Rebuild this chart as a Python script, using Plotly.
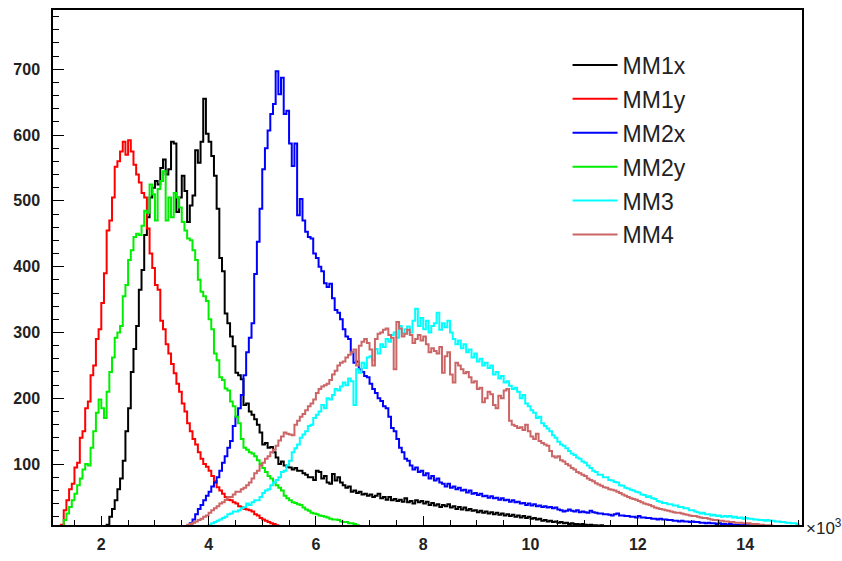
import numpy as np
import plotly.graph_objects as go

# Bin width of every histogram, in units of 10^3
BIN_WIDTH = 0.05

# Counts per bin; each series lists its bins from its first filled bin edge
mm1x_start = 2.10
mm1x = [8, 20, 32, 45, 62, 78, 105, 150, 185, 240,
        275, 310, 365, 395, 448, 475, 505, 520, 530, 525,
        550, 563, 540, 548, 590, 587, 483, 505, 538, 515,
        468, 493, 508, 577, 558, 590, 655, 602, 590, 568,
        538, 488, 413, 393, 329, 314, 294, 279, 239, 235,
        229, 190, 192, 180, 175, 168, 160, 148, 130, 132,
        125, 126, 118, 110, 100, 104, 98, 96, 95, 92,
        94, 90, 90, 86, 84, 80, 80, 76, 90, 88,
        78, 82, 72, 70, 85, 75, 80, 72, 68, 64,
        66, 58, 60, 56, 58, 54, 55, 52, 54, 50,
        52, 55, 48, 50, 46, 50, 45, 47, 44, 46,
        43, 48, 42, 44, 40, 45, 42, 44, 40, 43,
        38, 41, 37, 39, 35, 38, 36, 39, 34, 36,
        32, 35, 31, 34, 30, 32, 29, 30, 27, 29,
        26, 28, 25, 27, 24, 26, 23, 25, 22, 24,
        21, 23, 20, 22, 19, 21, 18, 20, 17, 18,
        16, 17, 14, 15, 13, 14, 12, 13, 11, 12,
        10, 11, 9, 10, 9, 9, 8, 9, 8, 7,
        8, 7, 7, 6, 7, 6, 6, 5, 6, 5,
        5, 4, 5, 4, 4, 4, 3, 4, 3, 3,
        3, 2, 3, 2, 2, 2, 2, 1, 2, 1]

mm1y_start = 1.25
mm1y = [8, 30, 45, 62, 70, 95, 102, 140, 150, 185,
        195, 235, 250, 290, 305, 345, 390, 455, 470, 505,
        552, 560, 575, 590, 570, 592, 575, 555, 540, 528,
        512, 505, 458, 420, 398, 372, 365, 318, 305, 282,
        268, 252, 238, 222, 210, 192, 180, 162, 150, 138,
        130, 118, 108, 100, 96, 90, 82, 74, 65, 60,
        55, 50, 46, 45, 42, 40, 36, 35, 32, 31,
        30, 28, 24, 22, 18, 16, 14, 12, 10, 9,
        7, 6, 6, 5, 4, 5, 3, 4, 3, 4,
        2, 3, 2, 3, 2, 2, 1, 2, 1, 1]

mm2x_start = 3.60
mm2x = [5, 10, 16, 24, 32, 38, 45, 52, 58, 66,
        72, 80, 90, 102, 112, 125, 135, 158, 172, 185,
        205, 235, 270, 292, 314, 389, 438, 488, 548, 580,
        607, 632, 647, 697, 662, 687, 632, 637, 587, 553,
        587, 478, 503, 470, 453, 445, 443, 420, 413, 400,
        393, 375, 369, 374, 352, 334, 330, 320, 305, 294,
        290, 270, 254, 256, 244, 240, 234, 232, 222, 214,
        208, 200, 196, 188, 185, 172, 155, 150, 138, 125,
        118, 108, 105, 98, 92, 95, 88, 90, 83, 86,
        78, 82, 75, 78, 72, 70, 66, 70, 64, 66,
        62, 64, 60, 61, 57, 60, 55, 56, 53, 55,
        51, 52, 49, 51, 48, 49, 46, 48, 45, 46,
        43, 45, 42, 43, 40, 41, 38, 40, 37, 39,
        36, 37, 35, 36, 34, 35, 33, 34, 31, 30,
        28, 29, 31, 29, 28, 30, 27, 28, 27, 26,
        29, 27, 26, 25, 25, 24, 24, 23, 22, 24,
        25, 22, 22, 21, 21, 20, 20, 19, 21, 19,
        19, 18, 18, 17, 17, 16, 17, 16, 16, 15,
        15, 14, 14, 13, 14, 13, 13, 12, 13, 12,
        12, 11, 11, 10, 11, 10, 10, 9, 10, 9,
        9, 8, 9, 8, 8, 8, 7, 8, 7, 7,
        7, 6, 7, 6, 6, 6, 5, 6, 5, 5,
        5, 5, 4, 5, 4, 4, 4, 4]

mm2y_start = 1.25
mm2y = [5, 15, 25, 35, 45, 55, 68, 78, 92, 100,
        98, 125, 150, 178, 198, 185, 170, 210, 240, 262,
        292, 300, 310, 355, 372, 410, 425, 445, 450, 448,
        462, 485, 482, 525, 510, 470, 518, 530, 545, 470,
        505, 475, 512, 505, 490, 468, 455, 443, 440, 425,
        410, 380, 362, 355, 348, 320, 305, 268, 258, 232,
        228, 215, 212, 195, 188, 172, 162, 138, 125, 122,
        118, 116, 112, 106, 100, 94, 88, 82, 78, 72,
        68, 64, 60, 52, 48, 45, 42, 41, 39, 38,
        34, 31, 29, 26, 25, 24, 22, 21, 20, 19,
        17, 16, 16, 15, 13, 12, 12, 10, 10, 9,
        7, 6, 6, 5, 4, 4, 3, 3, 2, 2,
        1, 1]

mm3_start = 3.80
mm3 = [3, 4, 5, 6, 8, 10, 12, 14, 16, 18,
       20, 24, 25, 28, 28, 30, 33, 35, 40, 38,
       42, 45, 45, 50, 56, 60, 62, 68, 72, 76,
       80, 88, 90, 98, 105, 118, 124, 130, 140, 145,
       150, 158, 160, 170, 175, 180, 190, 185, 200, 198,
       205, 214, 212, 218, 224, 220, 230, 226, 190, 244,
       239, 254, 246, 262, 264, 258, 275, 268, 282, 278,
       290, 286, 296, 300, 292, 310, 298, 305, 309, 300,
       318, 336, 310, 322, 305, 318, 300, 310, 314, 330,
       304, 314, 308, 318, 300, 290, 282, 288, 276, 282,
       270, 274, 262, 268, 256, 260, 250, 254, 246, 250,
       236, 240, 230, 234, 224, 226, 219, 214, 216, 210,
       200, 205, 192, 188, 182, 178, 170, 172, 162, 158,
       154, 150, 144, 140, 134, 130, 128, 124, 120, 116,
       114, 110, 108, 104, 102, 98, 94, 90, 88, 84,
       84, 80, 80, 76, 75, 73, 72, 68, 67, 64,
       63, 61, 60, 58, 57, 54, 53, 50, 51, 48,
       47, 44, 43, 41, 41, 39, 39, 37, 37, 35,
       35, 33, 33, 30, 30, 28, 27, 25, 26, 24,
       24, 22, 23, 21, 22, 20, 21, 20, 21, 19,
       20, 18, 19, 17, 18, 17, 17, 16, 16, 15,
       15, 14, 15, 14, 14, 13, 13, 12, 12, 11,
       11, 10, 10, 9]

mm4_start = 3.35
mm4 = [3, 4, 5, 6, 6, 8, 9, 11, 13, 15,
       17, 20, 22, 26, 30, 33, 36, 40, 42, 46,
       50, 50, 54, 58, 58, 62, 64, 68, 72, 78,
       86, 90, 98, 102, 108, 112, 118, 122, 128, 136,
       142, 148, 146, 145, 144, 160, 166, 172, 176, 182,
       188, 192, 198, 208, 214, 218, 220, 222, 228, 236,
       242, 250, 254, 256, 262, 266, 270, 274, 250, 280,
       286, 290, 284, 274, 250, 290, 298, 300, 304, 306,
       296, 292, 244, 316, 306, 294, 298, 304, 296, 284,
       290, 296, 288, 294, 282, 270, 276, 272, 268, 278,
       239, 264, 270, 236, 224, 254, 250, 244, 238, 240,
       232, 224, 226, 214, 216, 194, 200, 210, 206, 190,
       185, 204, 200, 212, 214, 166, 160, 158, 155, 156,
       152, 160, 150, 142, 138, 146, 135, 132, 130, 128,
       120, 112, 110, 112, 106, 104, 100, 98, 94, 92,
       88, 86, 84, 82, 78, 76, 74, 71, 69, 67,
       65, 64, 62, 61, 60, 58, 56, 54, 52, 50,
       48, 47, 46, 44, 42, 40, 39, 38, 36, 34,
       33, 32, 31, 30, 29, 28, 27, 26, 26, 25,
       24, 23, 22, 21, 21, 20, 19, 18, 18, 17,
       16, 15, 15, 14, 14, 13, 13, 12, 12, 11,
       11, 11, 10, 10, 10, 9, 9, 9, 8, 8,
       7, 7, 7, 6, 6, 6, 5, 5, 5, 4,
       4, 4, 3]

series = [
    ("MM1x", mm1x_start, mm1x, "#000000"),
    ("MM1y", mm1y_start, mm1y, "#ff0000"),
    ("MM2x", mm2x_start, mm2x, "#0000ff"),
    ("MM2y", mm2y_start, mm2y, "#00ee00"),
    ("MM3", mm3_start, mm3, "#00ffff"),
    ("MM4", mm4_start, mm4, "#cc6666"),
]

X_RANGE = [1.1, 15.06]
Y_RANGE = [7.5, 790]

fig = go.Figure()
for name, start, counts, color in series:
    counts = np.asarray(counts, dtype=float)
    edges = start + BIN_WIDTH * np.arange(len(counts) + 1)
    # step outline: rise from the baseline, one step per bin, drop back down
    xs = np.concatenate([[edges[0]], edges[:-1], [edges[-1]]])
    ys = np.concatenate([[0.0], counts, [0.0]])
    fig.add_trace(go.Scatter(
        x=xs, y=ys, mode="lines", name=name,
        line=dict(color=color, width=2, shape="hv"),
        legendgroup=name, hoverinfo="skip",
    ))

tick_font = dict(family="Liberation Sans", size=16, color="#222222", weight="bold")

fig.update_layout(
    width=842, height=561,
    margin=dict(l=53, r=40, t=8, b=29),
    paper_bgcolor="white", plot_bgcolor="white",
    showlegend=True,
    legend=dict(
        x=0.687, y=0.935, xanchor="left", yanchor="top",
        font=dict(family="Liberation Sans", size=23, color="#222222"),
        bgcolor="rgba(0,0,0,0)", tracegroupgap=1, itemwidth=45,
    ),
    xaxis=dict(
        range=X_RANGE, dtick=2, tick0=0,
        showgrid=False, zeroline=False,
        showline=True, linecolor="black", linewidth=1.5, mirror=True,
        ticks="inside", ticklen=9, tickwidth=1, tickcolor="black",
        minor=dict(dtick=0.5, tick0=0, ticks="inside", ticklen=5, tickcolor="black", showgrid=False),
        tickfont=tick_font, ticklabelstandoff=4,
    ),
    yaxis=dict(
        range=Y_RANGE, dtick=100, tick0=0,
        showgrid=False, zeroline=False,
        showline=True, linecolor="black", linewidth=1.5, mirror=True,
        ticks="inside", ticklen=11, tickwidth=1, tickcolor="black",
        minor=dict(dtick=20, tick0=0, ticks="inside", ticklen=6, tickcolor="black", showgrid=False),
        tickfont=tick_font, ticklabelstandoff=8,
    ),
    annotations=[dict(
        text="×10<sup>3</sup>", xref="paper", yref="paper",
        x=1.003, y=-0.004, xanchor="left", yanchor="middle",
        showarrow=False,
        font=dict(family="Liberation Sans", size=17, color="#222222"),
    )],
)

fig.write_html("out.html")
